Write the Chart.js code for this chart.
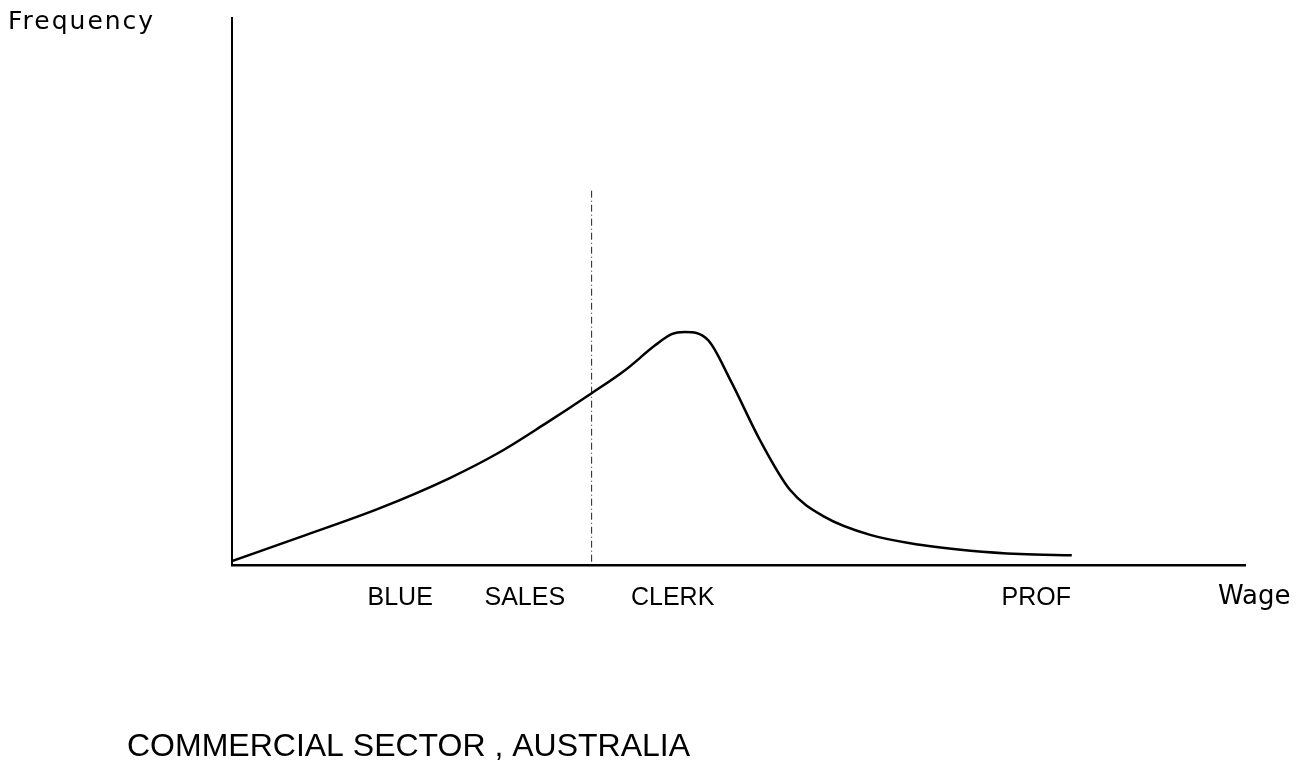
<!DOCTYPE html>
<html>
<head>
<meta charset="utf-8">
<script src="https://cdn.jsdelivr.net/npm/chart.js@4.4.1/dist/chart.umd.min.js"></script>
<style>
  html, body { margin: 0; padding: 0; background: #fff; }
</style>
</head>
<body>
<canvas id="chart" width="1309" height="769"></canvas>
<script>
// Wage (x) vs frequency (y), both on a 0-100 sketch scale
const wageX = [0, 6.7, 14.6, 21.5, 26.5, 30.9, 35.5, 38.8, 41.8, 43.4, 44.7, 47.0, 49.2, 52.1, 55.1, 58.5, 63.0, 67.9, 72.9, 77.8, 82.9];
const frequency = [0.7, 5.1, 10.4, 15.9, 20.7, 25.8, 31.4, 35.6, 40.2, 42.2, 42.6, 41.1, 33.8, 22.9, 13.7, 8.8, 5.5, 3.7, 2.6, 2.0, 1.8];

// Occupation labels along the wage axis
const occupations = ["BLUE", "SALES", "CLERK", "PROF"];
const occupationX = [16.6, 28.9, 43.5, 79.4];

// Dashed cut line
const cutX = [35.5, 35.5];
const cutY = [0.6, 68.6];

const axisTitleX = "Wage";
const axisTitleY = "Frequency";
const chartTitle = "COMMERCIAL SECTOR , AUSTRALIA";

const curve = wageX.map((x, i) => ({ x: x, y: frequency[i] }));
const cut = cutX.map((x, i) => ({ x: x, y: cutY[i] }));

// Texts that sit outside the axes
const sketchText = {
  id: "sketchText",
  afterDraw(chart) {
    const ctx = chart.ctx;
    const xs = chart.scales.x;
    ctx.save();
    ctx.fillStyle = "#000";
    ctx.textBaseline = "alphabetic";
    ctx.textAlign = "left";
    ctx.font = "25px 'DejaVu Sans'";
    ctx.letterSpacing = "2px";
    ctx.fillText(axisTitleY, 8, 29);
    ctx.font = "26px 'DejaVu Sans'";
    ctx.letterSpacing = "0px";
    ctx.fillText(axisTitleX, xs.getPixelForValue(100) - 27, 604);
    ctx.font = "32px 'Liberation Sans'";
    ctx.fillText(chartTitle, 127, 756);
    ctx.restore();
  }
};

new Chart(document.getElementById("chart"), {
  type: "line",
  plugins: [sketchText],
  data: {
    datasets: [
      {
        data: curve,
        borderColor: "#000",
        borderWidth: 2.5,
        pointRadius: 0,
        cubicInterpolationMode: "monotone",
        fill: false
      },
      {
        data: cut,
        borderColor: "#222",
        borderWidth: 1,
        borderDash: [7, 3, 1, 3],
        pointRadius: 0,
        fill: false
      }
    ]
  },
  options: {
    responsive: false,
    animation: false,
    layout: { padding: { left: 232, top: 18, right: 64, bottom: 138 } },
    plugins: {
      legend: { display: false },
      tooltip: { enabled: false }
    },
    scales: {
      x: {
        type: "linear",
        min: 0,
        max: 100,
        grid: { display: false, drawTicks: false },
        border: { display: true, color: "#000", width: 2.5 },
        afterBuildTicks: (axis) => {
          axis.ticks = occupationX.map((v) => ({ value: v }));
        },
        ticks: {
          autoSkip: false,
          maxRotation: 0,
          padding: 18,
          color: "#000",
          font: { family: "'Liberation Sans'", size: 25 },
          callback: (value) => occupations[occupationX.indexOf(value)]
        }
      },
      y: {
        type: "linear",
        min: 0,
        max: 100,
        grid: { display: false, drawTicks: false },
        border: { display: true, color: "#000", width: 2 },
        ticks: { display: false }
      }
    }
  }
});
</script>
</body>
</html>
